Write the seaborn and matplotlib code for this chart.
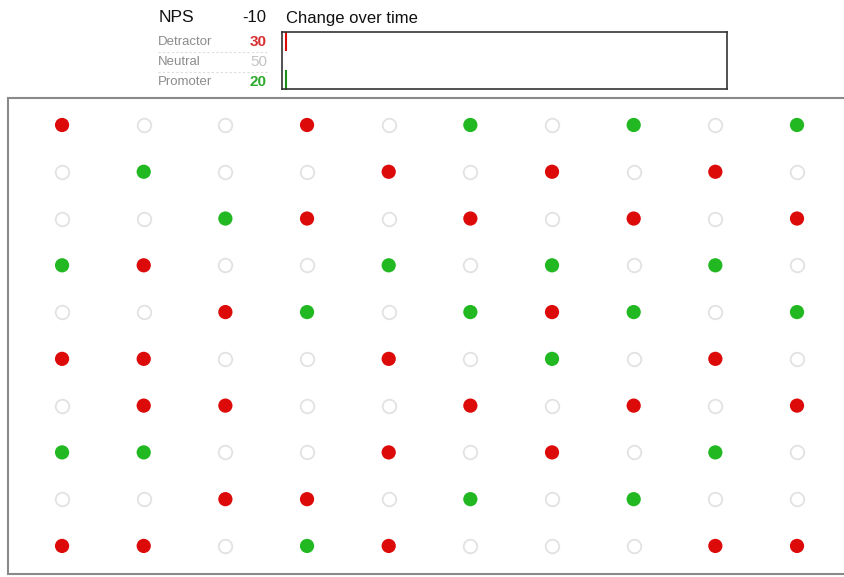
import seaborn as sns
import matplotlib.pyplot as plt
import pandas as pd
import numpy as np

# NPS summary
categories = ["Detractor", "Neutral", "Promoter"]
counts = [30, 50, 20]
nps = -10

# 10x10 grid of respondents, rows top -> bottom (D = detractor, N = neutral, P = promoter)
grid_rows = [
    "DNNDNPNPNP",
    "NPNNDNDNDN",
    "NNPDNDNDND",
    "PDNNPNPNPN",
    "NNDPNPDPNP",
    "DDNNDNPNDN",
    "NDDNNDNDND",
    "PPNNDNDNPN",
    "NNDDNPNPNN",
    "DDNPDNNNDD",
]

# change-over-time sparkline (only first period so far)
trend_detractor = [30]
trend_promoter = [20]

code_map = {"D": "Detractor", "N": "Neutral", "P": "Promoter"}
recs = []
for r, row in enumerate(grid_rows):
    for c, ch in enumerate(row):
        recs.append({"col": c, "row": r, "type": code_map[ch]})
df = pd.DataFrame(recs)

colors = {"Detractor": "#dd0a0a", "Neutral": "#c8c8c8", "Promoter": "#22b822"}

sns.set_theme(style="white")
plt.rcParams["font.family"] = ["Liberation Sans", "DejaVu Sans"]

W, H = 844, 577
fig = plt.figure(figsize=(W / 100, H / 100), dpi=100)

def px_axes(x0, y0, x1, y1):
    return fig.add_axes([x0 / W, 1 - y1 / H, (x1 - x0) / W, (y1 - y0) / H])

# main dot grid
ax = px_axes(8, 98, 846, 574)
filled = df[df["type"] != "Neutral"]
empty = df[df["type"] == "Neutral"]
sns.scatterplot(ax=ax, data=filled, x="col", y="row", hue="type",
                palette=colors, s=105, linewidth=0, legend=False)
sns.scatterplot(ax=ax, data=empty, x="col", y="row", s=95,
                facecolor="white", edgecolor="#e2e2e2", linewidth=1.3, legend=False)
ax.set_xlim(-0.662, 9.60)
ax.set_ylim(9.60, -0.577)
ax.set_xticks([])
ax.set_yticks([])
ax.set_xlabel("")
ax.set_ylabel("")
for s in ax.spines.values():
    s.set_color("#8a8a8a")
    s.set_linewidth(1.5)

# header text
fig.text(159 / W, 1 - 18 / H, "NPS", fontsize=12.5, color="#111111", va="center")
fig.text(266 / W, 1 - 18 / H, f"{nps}", fontsize=12, color="#111111", va="center", ha="right")
fig.text(286 / W, 1 - 18 / H, "Change over time", fontsize=12, color="#111111", va="center")

ys = [42, 62, 82]
num_colors = {"Detractor": "#d83030", "Neutral": "#c4c4c4", "Promoter": "#2eaa2e"}
for cat, n, y in zip(categories, counts, ys):
    fig.text(158 / W, 1 - y / H, cat, fontsize=9.5, color="#8c8c8c", va="center")
    fig.text(267 / W, 1 - y / H, str(n), fontsize=11, color=num_colors[cat],
             va="center", ha="right", fontweight="bold" if cat != "Neutral" else "normal")
for y in [52, 72]:
    fig.add_artist(plt.Line2D([158 / W, 268 / W], [1 - y / H, 1 - y / H],
                              color="#dddddd", lw=0.8, ls=(0, (2, 2))))

# change over time box
ax2 = px_axes(282, 32, 727, 89)
ax2.plot(np.arange(len(trend_detractor)), trend_detractor, color=colors["Detractor"],
         marker="|", markersize=14, mew=1.5)
ax2.plot(np.arange(len(trend_promoter)), trend_promoter, color="#1a8f1a",
         marker="|", markersize=14, mew=1.5)
ax2.set_xlim(-0.01, 1)
ax2.set_ylim(17.8, 32.2)
ax2.set_xticks([])
ax2.set_yticks([])
for s in ax2.spines.values():
    s.set_color("#333333")
    s.set_linewidth(1.2)

fig.savefig("out.png", dpi=100)
